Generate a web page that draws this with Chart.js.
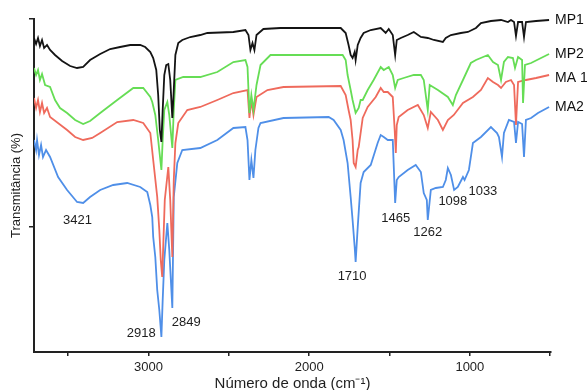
<!DOCTYPE html>
<html>
<head>
<meta charset="utf-8">
<script src="https://cdn.jsdelivr.net/npm/chart.js@4.4.1/dist/chart.umd.min.js"></script>
<style>
  html, body { margin: 0; padding: 0; background: #ffffff; }
  #wrap { width: 587px; height: 390px; }
</style>
</head>
<body>
<div id="wrap"><canvas id="c" width="587" height="390"></canvas></div>
<script>
// ---- Data (wavenumber in cm-1, transmittance in arbitrary % units) ----
const seriesNames = ['MP1', 'MP2', 'MA 1', 'MA2'];

const mp1Wave = [3713,3700,3688,3676,3663,3650,3632,3613,3582,3538,3488,3445,3407,3364,3301,3239,3177,3114,3052,3021,2989,2971,2952,2940,2930,2920,2912,2902,2890,2877,2865,2852,2843,2833,2815,2790,2740,2678,2634,2472,2397,2378,2366,2353,2341,2328,2285,2179,1804,1773,1755,1742,1730,1717,1711,1698,1680,1661,1617,1555,1524,1505,1480,1465,1455,1430,1387,1349,1305,1262,1224,1168,1150,1118,1056,1012,962,931,869,806,763,744,725,713,700,675,663,651,588,507];
const mp1Trans = [314,308,314,306,312,304,307,302,297,291,286,284,285,292,298,303,305,307,307,305,300,294,282,257,222,210,242,277,287,288,272,234,262,297,309,312,315,317,319,320,322,317,302,309,302,317,323,324,324,319,307,297,294,300,292,307,314,319,322,324,319,323,317,297,312,314,317,320,315,314,312,310,314,317,319,320,324,329,331,332,330,332,330,316,330,330,315,330,331,332];

const mp2Wave = [3713,3700,3688,3676,3663,3644,3613,3582,3551,3507,3457,3407,3364,3301,3195,3095,3033,2989,2977,2958,2940,2920,2912,2902,2883,2871,2852,2843,2833,2784,2678,2572,2472,2397,2384,2372,2360,2347,2328,2303,2241,2054,1792,1773,1761,1742,1730,1711,1692,1680,1667,1636,1599,1555,1536,1505,1480,1465,1449,1412,1349,1305,1287,1262,1250,1199,1137,1106,1087,1043,994,962,888,856,825,806,788,763,732,719,700,675,669,657,619,557,507];
const mp2Trans = [284,277,282,272,278,267,265,252,244,239,232,228,231,239,252,264,264,255,250,237,212,182,212,242,250,237,204,242,272,275,275,280,290,292,285,239,257,242,267,287,297,297,297,292,277,262,252,239,244,252,252,262,272,285,282,285,277,264,272,274,277,277,272,242,267,262,255,247,257,272,289,292,297,290,287,272,290,295,294,284,295,292,249,287,289,294,298];

const ma1Wave = [3713,3700,3688,3676,3663,3650,3632,3613,3507,3457,3407,3351,3301,3195,3095,3033,2989,2971,2946,2933,2924,2915,2899,2877,2865,2852,2843,2833,2815,2759,2678,2572,2472,2384,2372,2360,2347,2328,2260,2160,1804,1773,1755,1742,1730,1723,1711,1698,1692,1667,1636,1586,1555,1536,1511,1480,1468,1461,1455,1443,1387,1324,1287,1262,1243,1199,1168,1137,1100,1043,981,931,888,856,825,806,776,744,725,713,700,651,588,507];
const ma1Trans = [254,244,252,240,249,239,244,235,222,215,212,214,219,230,232,229,219,192,155,122,92,75,152,185,152,95,172,209,229,242,245,252,259,262,234,252,237,255,262,265,266,257,242,232,212,189,185,202,205,234,245,255,264,260,260,255,222,199,227,235,242,247,237,224,240,232,222,232,237,249,255,262,274,270,267,264,270,272,267,227,270,272,274,277];

const ma2Wave = [3713,3700,3694,3682,3669,3657,3638,3613,3563,3507,3445,3407,3364,3301,3220,3133,3052,3008,2989,2977,2971,2958,2946,2933,2920,2912,2902,2883,2871,2852,2843,2821,2790,2678,2572,2472,2397,2384,2372,2360,2347,2335,2316,2303,2160,1879,1848,1804,1786,1761,1742,1730,1717,1711,1698,1680,1661,1617,1574,1555,1536,1511,1480,1465,1455,1443,1387,1337,1305,1287,1268,1262,1243,1212,1168,1150,1137,1118,1098,1075,1043,1033,1006,981,931,869,831,819,800,788,757,725,713,700,675,663,651,619,576,507];
const ma2Trans = [212,202,212,197,207,195,202,195,175,162,150,149,155,162,167,169,165,160,147,135,115,95,62,42,15,52,92,129,102,44,155,189,202,204,212,224,225,212,172,192,174,202,224,229,234,235,232,222,212,189,155,132,105,90,125,169,180,187,209,217,215,212,212,149,172,175,182,187,180,159,152,132,162,164,165,172,184,177,162,165,175,172,182,209,215,225,219,215,195,219,232,230,209,230,228,195,232,234,239,245];

// Axis ticks
const xTickValues = [500, 1000, 1500, 2000, 2500, 3000, 3500];
const xLabelValues = [1000, 2000, 3000];
const yTickValues = [125, 333];

// Peak annotations (text + anchor in data units)
const peakLabels = ['3421', '2918', '2849', '1710', '1465', '1262', '1098', '1033'];
const peakLabelWave = [3442, 3046, 2765, 1733, 1461, 1262, 1106, 919];
const peakLabelTrans = [132, 19, 30, 76, 134, 120, 151, 161];

// ---- styles ----
const colors = ['#141414', '#66dd55', '#ef6a5c', '#4f8fe8'];
const FONT = '"Liberation Sans", Arial, Helvetica, sans-serif';

function toPoints(w, t) { return w.map((x, i) => ({ x: x, y: t[i] })); }
const waves = [mp1Wave, mp2Wave, ma1Wave, ma2Wave];
const trans = [mp1Trans, mp2Trans, ma1Trans, ma2Trans];

const datasets = seriesNames.map((name, i) => ({
  label: name,
  data: toPoints(waves[i], trans[i]),
  borderColor: colors[i],
  backgroundColor: colors[i],
  borderWidth: 1.8,
  pointRadius: 0,
  tension: 0,
  fill: false
}));

const textPlugin = {
  id: 'textPlugin',
  afterDatasetsDraw(chart) {
    const ctx = chart.ctx;
    const xs = chart.scales.x, ys = chart.scales.y;
    ctx.save();
    // series names at the end of each curve
    ctx.font = '14px ' + FONT;
    ctx.fillStyle = '#111';
    ctx.textAlign = 'left';
    ctx.textBaseline = 'middle';
    seriesNames.forEach((name, i) => {
      const w = waves[i], t = trans[i];
      const px = xs.getPixelForValue(w[w.length - 1]);
      const py = ys.getPixelForValue(t[t.length - 1]);
      ctx.fillText(name, px + 6, py + (i === 2 ? 3 : 0));
    });
    // peak labels
    ctx.font = '13px ' + FONT;
    ctx.fillStyle = '#1e1e1e';
    ctx.textAlign = 'center';
    peakLabels.forEach((txt, i) => {
      ctx.fillText(txt, xs.getPixelForValue(peakLabelWave[i]), ys.getPixelForValue(peakLabelTrans[i]));
    });
    ctx.restore();
  }
};

new Chart(document.getElementById('c'), {
  type: 'line',
  data: { datasets: datasets },
  plugins: [textPlugin],
  options: {
    responsive: false,
    devicePixelRatio: 1,
    animation: false,
    layout: { padding: { top: 19, right: 36, left: 0, bottom: 0 } },
    plugins: { legend: { display: false }, tooltip: { enabled: false } },
    scales: {
      x: {
        type: 'linear',
        reverse: true,
        min: 495,
        max: 3713,
        afterBuildTicks: (s) => { s.ticks = xTickValues.map(v => ({ value: v })); },
        afterFit: (s) => { s.height = 38; },
        grid: { display: true, drawOnChartArea: false, drawTicks: true, tickLength: 4, color: '#222', lineWidth: 1.5 },
        border: { display: true, color: '#222', width: 2 },
        ticks: {
          autoSkip: false,
          maxRotation: 0,
          padding: 4,
          color: '#1e1e1e',
          font: { family: FONT, size: 13 },
          callback: (v) => xLabelValues.includes(v) ? String(v) : ''
        },
        title: {
          display: true,
          text: 'Número de onda (cm⁻¹)',
          color: '#1e1e1e',
          font: { family: FONT, size: 15, lineHeight: 1.2 },
          padding: { top: 0, bottom: -3 }
        }
      },
      y: {
        type: 'linear',
        min: 0,
        max: 333,
        afterBuildTicks: (s) => { s.ticks = yTickValues.map(v => ({ value: v })); },
        afterFit: (s) => { s.width = 34; },
        grid: { display: true, drawOnChartArea: false, drawTicks: true, tickLength: 5, color: '#222', lineWidth: 1.5 },
        border: { display: true, color: '#222', width: 2 },
        ticks: { display: false },
        title: {
          display: true,
          text: 'Transmitância (%)',
          color: '#1e1e1e',
          font: { family: FONT, size: 13, lineHeight: 1.2 },
          padding: { top: 9, bottom: 0 }
        }
      }
    }
  }
});
</script>
</body>
</html>
